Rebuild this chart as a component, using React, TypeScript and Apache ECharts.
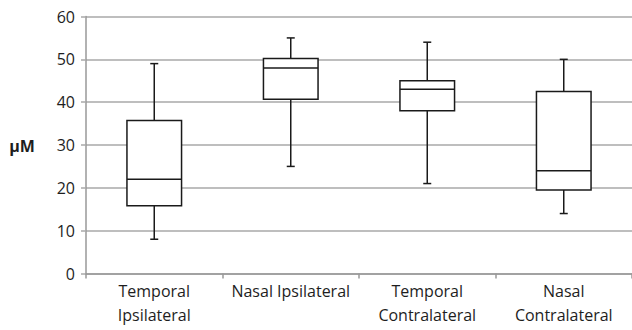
import React, { useEffect, useRef } from "react";
import * as echarts from "echarts";

const categories = ["Temporal\nIpsilateral", "Nasal Ipsilateral", "Temporal\nContralateral", "Nasal\nContralateral"];
const minValues = [8, 25, 21, 14];
const q1Values = [15.8, 40.7, 38, 19.5];
const medianValues = [22, 48, 43, 24];
const q3Values = [35.7, 50.2, 45, 42.5];
const maxValues = [49, 55, 54, 50];
const yTicks = { min: 0, max: 60, interval: 10 };
const yName = "µM";

const FONT = "'Open Sans', sans-serif";

export default function App() {
  const ref = useRef<HTMLDivElement>(null);
  useEffect(() => {
    if (!ref.current) return;
    const chart = echarts.init(ref.current, null, { renderer: "svg" });
    const data = categories.map((_, i) => [i, minValues[i], q1Values[i], medianValues[i], q3Values[i], maxValues[i]]);
    chart.setOption({
      animation: false,
      backgroundColor: "#ffffff",
      grid: { left: 86, right: -4, top: 16.5, bottom: 56.5, containLabel: false },
      xAxis: {
        type: "category",
        data: categories,
        boundaryGap: true,
        axisLine: { lineStyle: { color: "#999999", width: 1.5 } },
        axisTick: { show: true, length: 5, lineStyle: { color: "#999999", width: 1.5 } },
        axisLabel: { color: "#1e1e1e", fontFamily: FONT, fontSize: 16, lineHeight: 23.5, margin: 6, interval: 0 },
        splitLine: { show: false },
      },
      yAxis: {
        type: "value",
        min: yTicks.min,
        max: yTicks.max,
        interval: yTicks.interval,
        axisLine: { show: true, lineStyle: { color: "#999999", width: 1.5 } },
        axisTick: { show: true, length: 5, lineStyle: { color: "#a8a8a8", width: 1.5 } },
        axisLabel: { color: "#1e1e1e", fontFamily: FONT, fontSize: 16, margin: 11 },
        splitLine: { show: true, lineStyle: { color: "#a8a8a8", width: 1.5 } },
      },
      graphic: [
        {
          type: "text",
          x: 22,
          y: 146,
          style: {
            text: yName,
            fontFamily: FONT,
            fontSize: 16,
            fontWeight: "bold",
            fill: "#1e1e1e",
            align: "center",
            verticalAlign: "middle",
          },
        },
      ],
      series: [
        {
          type: "custom",
          data,
          encode: { x: 0, y: [1, 2, 3, 4, 5] },
          renderItem: (params: any, api: any) => {
            const xi = api.value(0);
            const pMin = api.coord([xi, api.value(1)]);
            const pQ1 = api.coord([xi, api.value(2)]);
            const pMed = api.coord([xi, api.value(3)]);
            const pQ3 = api.coord([xi, api.value(4)]);
            const pMax = api.coord([xi, api.value(5)]);
            const bw = api.size([1, 0])[0] * 0.4;
            const cx = pMin[0];
            const cap = 4;
            const ls = { stroke: "#1a1a1a", lineWidth: 1.5, fill: "none" };
            return {
              type: "group",
              children: [
                { type: "line", shape: { x1: cx, y1: pMax[1], x2: cx, y2: pQ3[1] }, style: ls },
                { type: "line", shape: { x1: cx, y1: pQ1[1], x2: cx, y2: pMin[1] }, style: ls },
                { type: "line", shape: { x1: cx - cap, y1: pMax[1], x2: cx + cap, y2: pMax[1] }, style: ls },
                { type: "line", shape: { x1: cx - cap, y1: pMin[1], x2: cx + cap, y2: pMin[1] }, style: ls },
                {
                  type: "rect",
                  shape: { x: cx - bw / 2, y: pQ3[1], width: bw, height: pQ1[1] - pQ3[1] },
                  style: { stroke: "#1a1a1a", lineWidth: 1.5, fill: "#ffffff" },
                },
                { type: "line", shape: { x1: cx - bw / 2, y1: pMed[1], x2: cx + bw / 2, y2: pMed[1] }, style: ls },
              ],
            };
          },
        },
      ],
    });
    return () => chart.dispose();
  }, []);
  return <div ref={ref} style={{ position: "absolute", left: 0, top: 0, width: 632, height: 330 }} />;
}
